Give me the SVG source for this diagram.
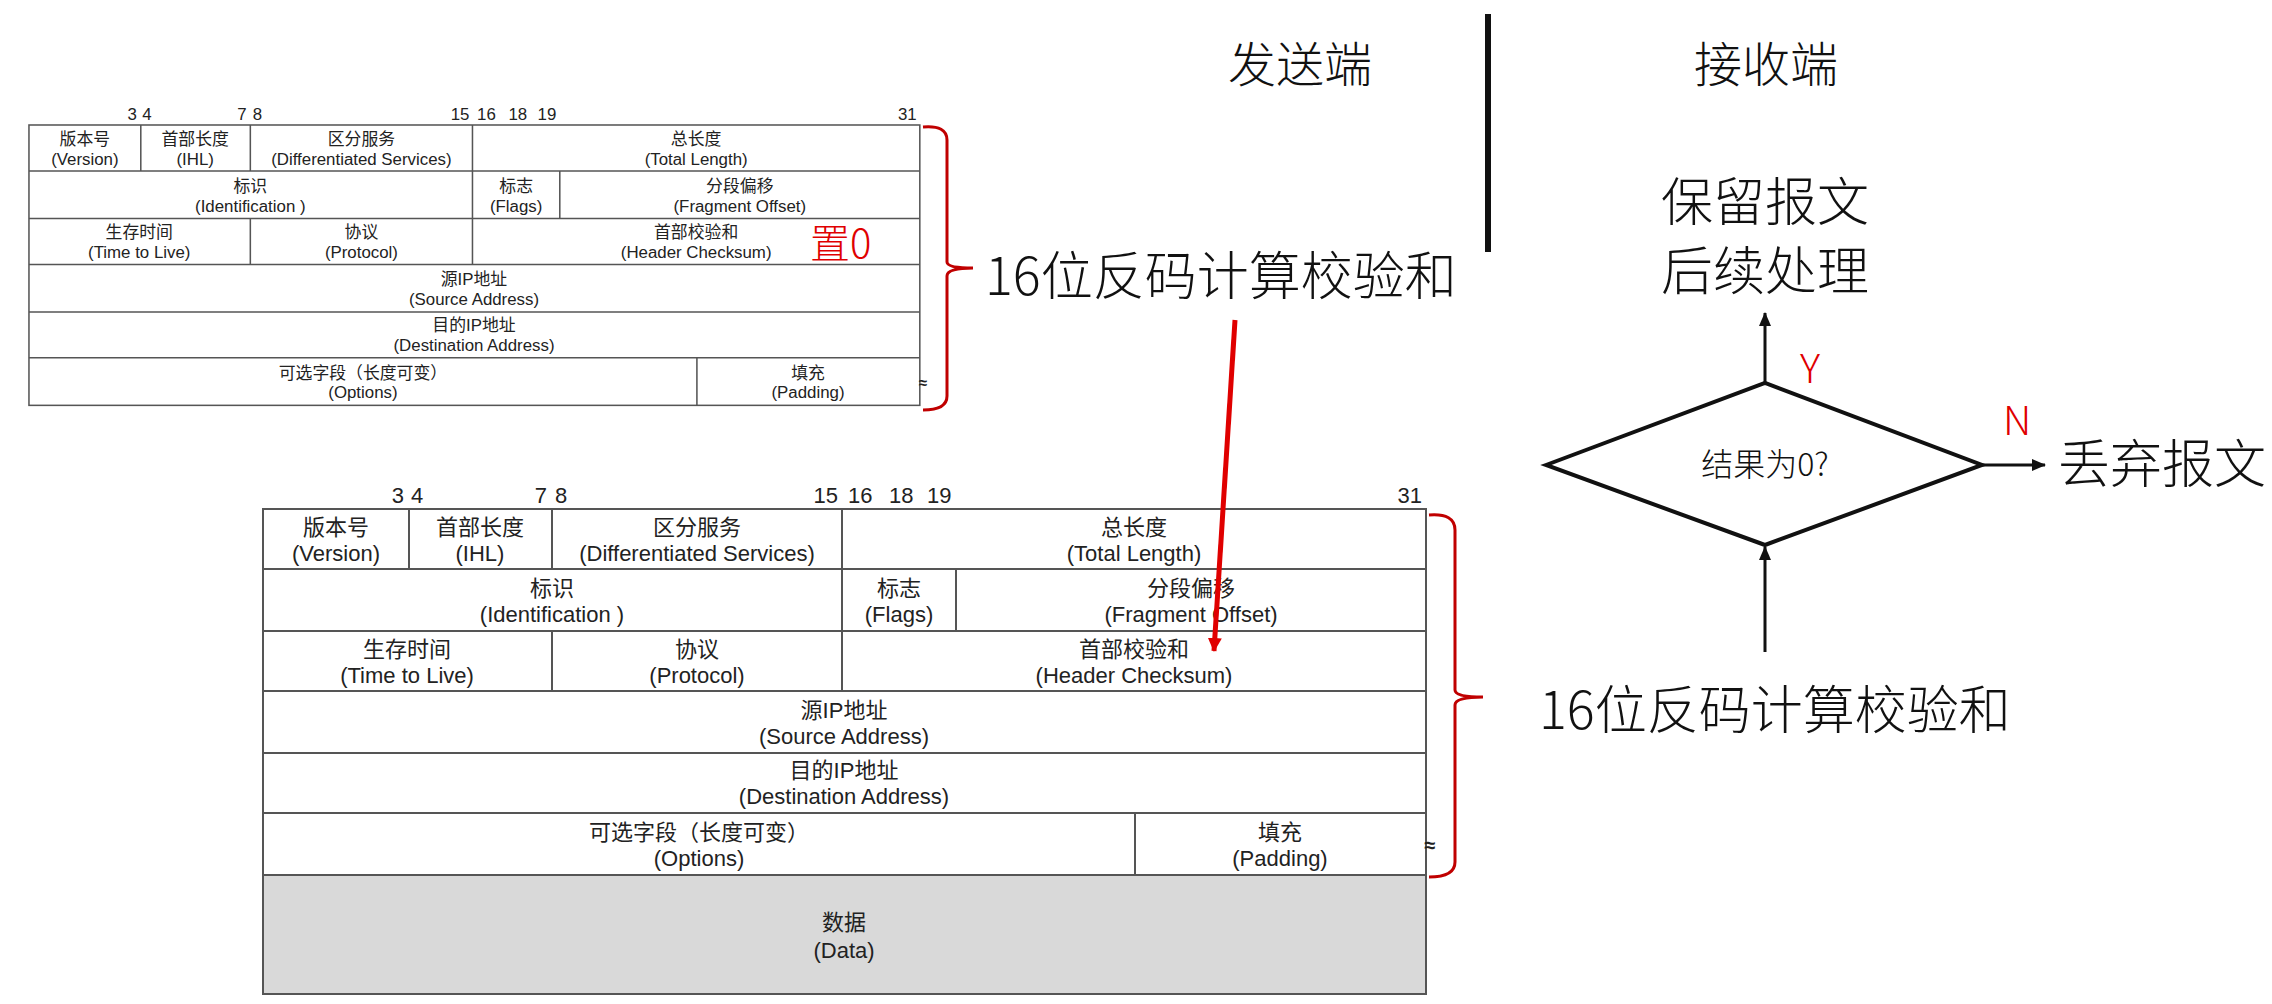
<svg xmlns="http://www.w3.org/2000/svg" xmlns:xlink="http://www.w3.org/1999/xlink" width="2272" height="1004" viewBox="0 0 2272 1004">
<style>
.cell{fill:#fff;stroke:#555;stroke-width:2}
.t{font-family:"Liberation Sans","Noto Sans CJK SC",sans-serif;font-size:22px;fill:#222;text-anchor:middle}
.n{font-family:"Liberation Sans",sans-serif;font-size:22px;fill:#222}
.big{font-family:"Noto Sans CJK SC",sans-serif;font-weight:300;font-size:52px;fill:#111}
.red{fill:#e00000}
.br{fill:none;stroke:#c00000;stroke-width:3}
.ln{stroke:#111;stroke-width:3;fill:none}
</style>
<defs>
<marker id="ah" markerWidth="14" markerHeight="14" refX="13" refY="7" orient="auto" markerUnits="userSpaceOnUse"><path d="M0,1 L14,7 L0,13 z" fill="#111"/></marker>
<marker id="ahr" markerWidth="14" markerHeight="14" refX="13" refY="7" orient="auto" markerUnits="userSpaceOnUse"><path d="M0,0 L14,7 L0,14 z" fill="#e00000"/></marker>
<g id="hdr">
<rect class="cell" x="263" y="509" width="1163" height="366"/>
<path class="cell" d="M263,569H1426M263,631H1426M263,691H1426M263,753H1426M263,813H1426M409,509V569M552,509V569M842,509V691M956,569V631M552,631V691M1135,813V875"/>
<text class="n" x="404" y="503" text-anchor="end">3</text><text class="n" x="411" y="503">4</text>
<text class="n" x="547" y="503" text-anchor="end">7</text><text class="n" x="555" y="503">8</text>
<text class="n" x="838" y="503" text-anchor="end">15</text><text class="n" x="848" y="503">16</text>
<text class="n" x="889" y="503">18</text><text class="n" x="927" y="503">19</text>
<text class="n" x="1422" y="503" text-anchor="end">31</text>
<text class="t" x="336" y="535">版本号</text><text class="t" x="336" y="561">(Version)</text>
<text class="t" x="480" y="535">首部长度</text><text class="t" x="480" y="561">(IHL)</text>
<text class="t" x="697" y="535">区分服务</text><text class="t" x="697" y="561">(Differentiated Services)</text>
<text class="t" x="1134" y="535">总长度</text><text class="t" x="1134" y="561">(Total Length)</text>
<text class="t" x="552" y="596">标识</text><text class="t" x="552" y="622">(Identification )</text>
<text class="t" x="899" y="596">标志</text><text class="t" x="899" y="622">(Flags)</text>
<text class="t" x="1191" y="596">分段偏移</text><text class="t" x="1191" y="622">(Fragment Offset)</text>
<text class="t" x="407" y="657">生存时间</text><text class="t" x="407" y="683">(Time to Live)</text>
<text class="t" x="697" y="657">协议</text><text class="t" x="697" y="683">(Protocol)</text>
<text class="t" x="1134" y="657">首部校验和</text><text class="t" x="1134" y="683">(Header Checksum)</text>
<text class="t" x="844" y="718">源IP地址</text><text class="t" x="844" y="744">(Source Address)</text>
<text class="t" x="844" y="778">目的IP地址</text><text class="t" x="844" y="804">(Destination Address)</text>
<text class="t" x="699" y="840">可选字段（长度可变）</text><text class="t" x="699" y="866">(Options)</text>
<text class="t" x="1280" y="840">填充</text><text class="t" x="1280" y="866">(Padding)</text>
<text class="t" x="1430" y="852" style="font-size:20px;font-weight:bold">≈</text>
</g>
</defs>

<g id="top-table"><use xlink:href="#hdr" href="#hdr" transform="translate(-172.5,-264.9) scale(0.766)"/></g>
<g id="bottom-table">
<use xlink:href="#hdr" href="#hdr"/>
<rect x="263" y="875" width="1163" height="119" fill="#d9d9d9" stroke="#555" stroke-width="2"/>
<text class="t" x="844" y="930">数据</text><text class="t" x="844" y="958">(Data)</text>
</g>

<g id="zero"><text class="red" x="810" y="258" style="font-family:'Noto Sans CJK SC',sans-serif;font-weight:300;font-size:40px">置0</text></g>
<g id="brace-top"><path class="br" d="M923,127 Q947,125 947,140 V262 Q947,268 973,268 Q947,268 947,276 V396 Q947,410 923,410"/></g>
<g id="brace-bot"><path class="br" d="M1429,515 Q1455,513 1455,530 V690 Q1455,697 1483,697 Q1455,697 1455,705 V862 Q1455,877 1429,877"/></g>

<g id="send-calc"><text class="big" x="985" y="295">16位反码计算校验和</text></g>
<g id="sender"><text class="big" x="1300" y="82" text-anchor="middle" style="font-size:48px">发送端</text></g>
<g id="receiver"><text class="big" x="1766" y="82" text-anchor="middle" style="font-size:48px">接收端</text></g>
<g id="divider"><line x1="1488" y1="14" x2="1488" y2="252" stroke="#111" stroke-width="6"/></g>
<g id="keep"><text class="big" x="1765" y="221" text-anchor="middle">保留报文</text><text class="big" x="1765" y="290" text-anchor="middle">后续处理</text></g>
<g id="decision"><polygon points="1546,465 1765,383 1982,465 1765,545" fill="#fff" stroke="#111" stroke-width="4"/>
<text x="1765" y="476" text-anchor="middle" style="font-family:'Noto Sans CJK SC',sans-serif;font-weight:300;font-size:32px" fill="#111">结果为0?</text></g>
<g id="drop"><text class="big" x="2058" y="483">丢弃报文</text></g>
<g id="recv-calc"><text class="big" x="1539" y="729">16位反码计算校验和</text></g>

<g id="connectors">
<line x1="1235" y1="320" x2="1214" y2="651" stroke="#e00000" stroke-width="5" marker-end="url(#ahr)"/>
<line class="ln" x1="1765" y1="383" x2="1765" y2="313" marker-end="url(#ah)"/>
<line class="ln" x1="1982" y1="465" x2="2045" y2="465" marker-end="url(#ah)"/>
<line class="ln" x1="1765" y1="652" x2="1765" y2="547" marker-end="url(#ah)"/>
<text class="red" x="1800" y="383" style="font-family:'Noto Sans CJK SC',sans-serif;font-weight:300;font-size:40px">Y</text>
<text class="red" x="2003" y="435" style="font-family:'Noto Sans CJK SC',sans-serif;font-weight:300;font-size:40px">N</text>
</g>
</svg>
